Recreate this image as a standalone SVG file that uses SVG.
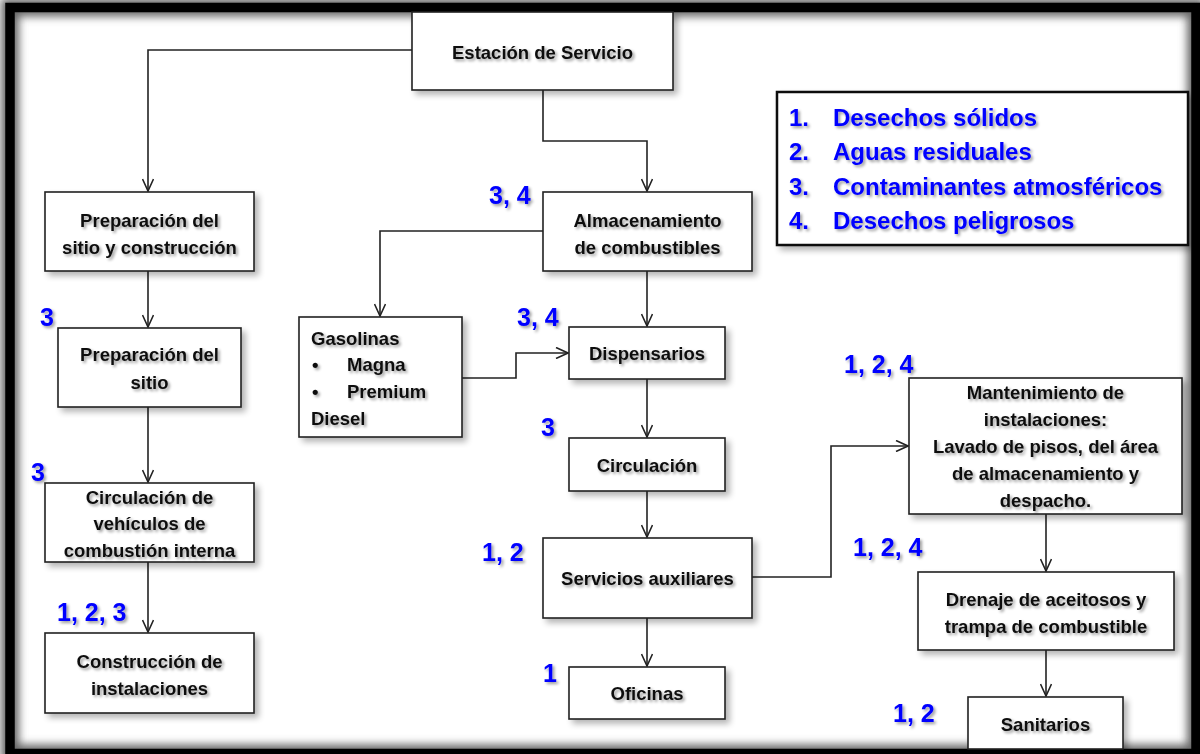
<svg xmlns="http://www.w3.org/2000/svg" width="1200" height="754" viewBox="0 0 1200 754">
<defs>
<style>
.box{fill:#fff;stroke:#222;stroke-width:1.6}
.t{font-family:"Liberation Sans",Arial,sans-serif;font-weight:bold;font-size:18.5px;fill:#111;text-anchor:middle}
.tl{font-family:"Liberation Sans",Arial,sans-serif;font-weight:bold;font-size:18.5px;fill:#111}
.lab{font-family:"Liberation Sans",Arial,sans-serif;font-weight:bold;font-size:25px;fill:#0000ff}
.leg{font-family:"Liberation Sans",Arial,sans-serif;font-weight:bold;font-size:24px;fill:#0000ff}
.c{fill:none;stroke:#222;stroke-width:1.6}
</style>
<filter id="bs" x="-10%" y="-10%" width="130%" height="140%">
<feGaussianBlur in="SourceAlpha" stdDeviation="3"/>
<feOffset dx="4" dy="4" result="b"/>
<feComponentTransfer><feFuncA type="linear" slope="0.3"/></feComponentTransfer>
<feMerge><feMergeNode/><feMergeNode in="SourceGraphic"/></feMerge>
</filter>
<filter id="ts" x="-10%" y="-30%" width="130%" height="170%">
<feGaussianBlur in="SourceAlpha" stdDeviation="1.6"/>
<feOffset dx="2" dy="2"/>
<feComponentTransfer><feFuncA type="linear" slope="0.4"/></feComponentTransfer>
<feMerge><feMergeNode/><feMergeNode in="SourceGraphic"/></feMerge>
</filter>
<filter id="fb" x="-5%" y="-5%" width="110%" height="110%">
<feGaussianBlur stdDeviation="4"/>
</filter>
<marker id="ar" viewBox="0 0 14 12" refX="13" refY="6" markerWidth="14" markerHeight="12" markerUnits="userSpaceOnUse" orient="auto">
<path d="M1,0.5 L13,6 L1,11.5" fill="none" stroke="#222" stroke-width="1.6"/>
</marker>
</defs>
<rect width="1200" height="754" fill="#fff"/>
<rect x="10" y="7.5" width="1186" height="746" fill="none" stroke="#666" stroke-width="18" filter="url(#fb)"/>
<rect x="10" y="7.5" width="1186" height="746" fill="none" stroke="#000" stroke-width="9.5"/>

<g id="connectors">
<path class="c" d="M412,50 H148 V191" marker-end="url(#ar)"/>
<path class="c" d="M543,90 V141 H647 V191" marker-end="url(#ar)"/>
<path class="c" d="M148,271 V327" marker-end="url(#ar)"/>
<path class="c" d="M148,407 V482" marker-end="url(#ar)"/>
<path class="c" d="M148,562 V632" marker-end="url(#ar)"/>
<path class="c" d="M543,231 H380 V316" marker-end="url(#ar)"/>
<path class="c" d="M647,271 V326" marker-end="url(#ar)"/>
<path class="c" d="M462,378 H516 V353 H568" marker-end="url(#ar)"/>
<path class="c" d="M647,379 V437" marker-end="url(#ar)"/>
<path class="c" d="M647,491 V537" marker-end="url(#ar)"/>
<path class="c" d="M647,618 V666" marker-end="url(#ar)"/>
<path class="c" d="M752,577 H831 V446 H908" marker-end="url(#ar)"/>
<path class="c" d="M1046,514 V571" marker-end="url(#ar)"/>
<path class="c" d="M1046,650 V696" marker-end="url(#ar)"/>
</g>

<g id="n-estacion"><rect class="box" filter="url(#bs)" x="412" y="12" width="261" height="78"/>
<text class="t" filter="url(#ts)" x="542.5" y="58.5">Estación de Servicio</text></g>

<g id="n-prep-const"><rect class="box" filter="url(#bs)" x="45" y="192" width="209" height="79"/>
<text class="t" filter="url(#ts)" x="149.5" y="226.5"><tspan x="149.5">Preparación del</tspan><tspan x="149.5" y="253.5">sitio y construcción</tspan></text></g>

<g id="n-almac"><rect class="box" filter="url(#bs)" x="543" y="192" width="209" height="79"/>
<text class="t" filter="url(#ts)" x="647.5" y="226.5"><tspan x="647.5">Almacenamiento</tspan><tspan x="647.5" y="253.5">de combustibles</tspan></text></g>

<g id="n-prep-sitio"><rect class="box" filter="url(#bs)" x="58" y="328" width="183" height="79"/>
<text class="t" filter="url(#ts)" x="149.5" y="360.5"><tspan x="149.5">Preparación del</tspan><tspan x="149.5" y="388.5">sitio</tspan></text></g>

<g id="n-circ-veh"><rect class="box" filter="url(#bs)" x="45" y="483" width="209" height="79"/>
<text class="t" filter="url(#ts)" x="149.5" y="503.5"><tspan x="149.5">Circulación de</tspan><tspan x="149.5" y="530">vehículos de</tspan><tspan x="149.5" y="556.5">combustión interna</tspan></text></g>

<g id="n-constr"><rect class="box" filter="url(#bs)" x="45" y="633" width="209" height="80"/>
<text class="t" filter="url(#ts)" x="149.5" y="667.5"><tspan x="149.5">Construcción de</tspan><tspan x="149.5" y="694.5">instalaciones</tspan></text></g>

<g id="n-gasolinas"><rect class="box" filter="url(#bs)" x="299" y="317" width="163" height="120"/>
<g class="tl" filter="url(#ts)">
<text class="tl" x="311" y="344.5">Gasolinas</text>
<text class="tl" x="312" y="370.5">•</text><text class="tl" x="347" y="370.5">Magna</text>
<text class="tl" x="312" y="398">•</text><text class="tl" x="347" y="398">Premium</text>
<text class="tl" x="311" y="424.5">Diesel</text></g></g>

<g id="n-dispensarios"><rect class="box" filter="url(#bs)" x="569" y="327" width="156" height="52"/>
<text class="t" filter="url(#ts)" x="647" y="359.5">Dispensarios</text></g>

<g id="n-circulacion"><rect class="box" filter="url(#bs)" x="569" y="438" width="156" height="53"/>
<text class="t" filter="url(#ts)" x="647" y="471.5">Circulación</text></g>

<g id="n-servicios"><rect class="box" filter="url(#bs)" x="543" y="538" width="209" height="80"/>
<text class="t" filter="url(#ts)" x="647.5" y="584.5">Servicios auxiliares</text></g>

<g id="n-oficinas"><rect class="box" filter="url(#bs)" x="569" y="667" width="156" height="52"/>
<text class="t" filter="url(#ts)" x="647" y="699.5">Oficinas</text></g>

<g id="n-mant"><rect class="box" filter="url(#bs)" x="909" y="378" width="273" height="136"/>
<text class="t" filter="url(#ts)" x="1045.5" y="398.5"><tspan x="1045.5">Mantenimiento de</tspan><tspan x="1045.5" y="426">instalaciones:</tspan><tspan x="1045.5" y="453">Lavado de pisos, del área</tspan><tspan x="1045.5" y="480">de almacenamiento y</tspan><tspan x="1045.5" y="507">despacho.</tspan></text></g>

<g id="n-drenaje"><rect class="box" filter="url(#bs)" x="918" y="572" width="256" height="78"/>
<text class="t" filter="url(#ts)" x="1046" y="605.5"><tspan x="1046">Drenaje de aceitosos y</tspan><tspan x="1046" y="632.5">trampa de combustible</tspan></text></g>

<g id="n-sanitarios"><rect class="box" filter="url(#bs)" x="968" y="697" width="155" height="52"/>
<text class="t" filter="url(#ts)" x="1045.5" y="730.5">Sanitarios</text></g>

<g id="legend"><rect filter="url(#bs)" x="777" y="92" width="411" height="153" fill="#fff" stroke="#111" stroke-width="2.5"/>
<g filter="url(#ts)">
<text class="leg" x="789" y="125.5">1.</text><text class="leg" x="833" y="125.5">Desechos sólidos</text>
<text class="leg" x="789" y="160">2.</text><text class="leg" x="833" y="160">Aguas residuales</text>
<text class="leg" x="789" y="194.5">3.</text><text class="leg" x="833" y="194.5">Contaminantes atmosféricos</text>
<text class="leg" x="789" y="228.5">4.</text><text class="leg" x="833" y="228.5">Desechos peligrosos</text>
</g></g>

<g id="labels" filter="url(#ts)">
<text class="lab" x="489" y="203.5">3, 4</text>
<text class="lab" x="40" y="325.5">3</text>
<text class="lab" x="31" y="480.5">3</text>
<text class="lab" x="57" y="620.5">1, 2, 3</text>
<text class="lab" x="517" y="325.5">3, 4</text>
<text class="lab" x="541" y="435.5">3</text>
<text class="lab" x="482" y="560.5">1, 2</text>
<text class="lab" x="543" y="681.5">1</text>
<text class="lab" x="844" y="372.5">1, 2, 4</text>
<text class="lab" x="853" y="555.5">1, 2, 4</text>
<text class="lab" x="893" y="721.5">1, 2</text>
</g>
</svg>
